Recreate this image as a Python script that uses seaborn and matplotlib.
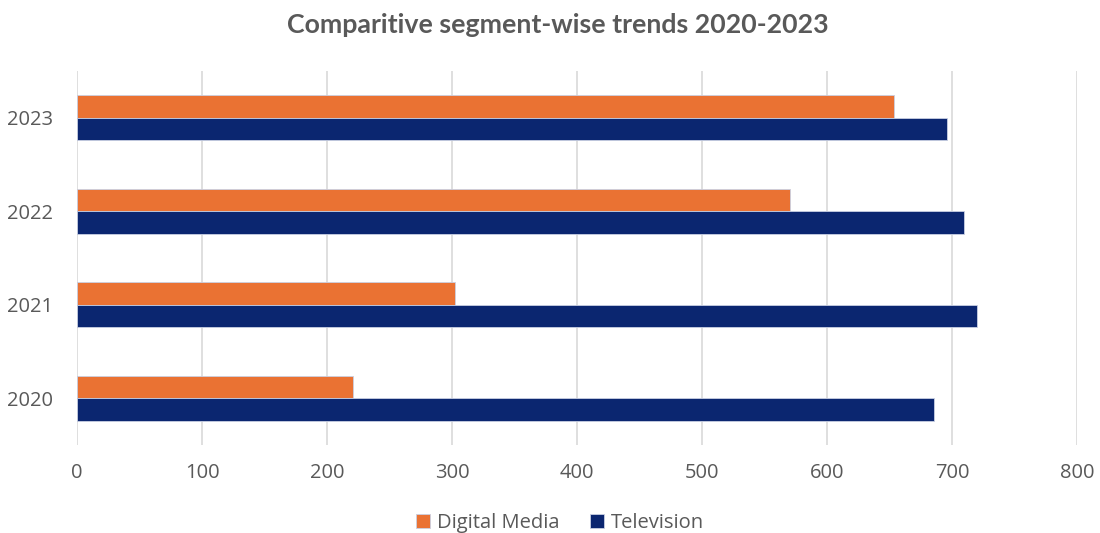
import matplotlib
matplotlib.use("Agg")
import matplotlib.pyplot as plt
import seaborn as sns
import pandas as pd

# Data
years = ["2023", "2022", "2021", "2020"]
digital_media = [653, 570, 302, 221]
television = [696, 709, 720, 685]
series_names = ["Digital Media", "Television"]
x_ticks = [0, 100, 200, 300, 400, 500, 600, 700, 800]

df = pd.DataFrame({
    "Year": years * 2,
    "Value": digital_media + television,
    "Segment": [series_names[0]] * len(years) + [series_names[1]] * len(years),
})

sns.set_theme(style="white")
plt.rcParams["font.family"] = ["Open Sans", "DejaVu Sans"]

text_grey = "#595959"
palette = {"Digital Media": "#EA7233", "Television": "#0B2670"}

fig = plt.figure(figsize=(11, 5.33), dpi=100)
ax = fig.add_axes([0.07, 0.165, 0.9095, 0.7018])

sns.barplot(data=df, y="Year", x="Value", hue="Segment", order=years,
            hue_order=series_names, palette=palette, orient="h",
            width=0.48, saturation=1, ax=ax, legend=True,
            edgecolor="#C9D0E3", linewidth=0.6)

ax.set_xlim(0, 800)
ax.set_ylim(3.5, -0.5)
ax.set_xticks(x_ticks)
ax.set_xticklabels([str(t) for t in x_ticks])
ax.set_xlabel("")
ax.set_ylabel("")

ax.grid(axis="x", color="#D9D9D9", linewidth=1.2)
ax.grid(axis="y", visible=False)
ax.set_axisbelow(True)
for s in ax.spines.values():
    s.set_visible(False)

ax.tick_params(axis="x", length=0, pad=13, labelsize=14.5, labelcolor=text_grey)
ax.tick_params(axis="y", length=0, pad=17, labelsize=14.5, labelcolor=text_grey)

fig.suptitle("Comparitive segment-wise trends 2020-2023", x=0.507, y=0.975,
             fontsize=19.3, fontweight="bold", color=text_grey,
             family=["Lato", "DejaVu Sans"])

handles, labels = ax.get_legend_handles_labels()
ax.get_legend().remove()
fig.legend(handles, labels, loc="center", bbox_to_anchor=(0.509, 0.019),
           ncol=2, frameon=False, fontsize=14.5, labelcolor=text_grey,
           handlelength=0.7, handleheight=0.7, handletextpad=0.35,
           columnspacing=1.5)

fig.savefig("out.png", dpi=100)
